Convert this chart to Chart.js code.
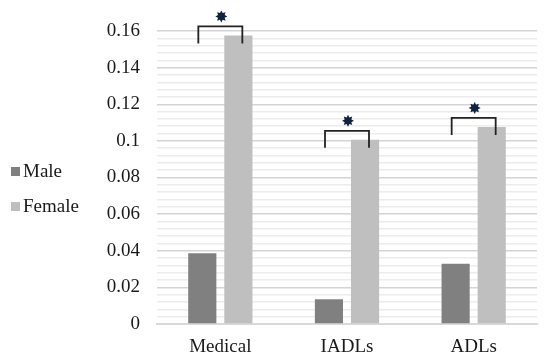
<!DOCTYPE html>
<html>
<head>
<meta charset="utf-8">
<script src="https://cdn.jsdelivr.net/npm/chart.js@4"></script>
<style>
  html, body { margin: 0; padding: 0; background: #fff; }
  #wrap { width: 550px; height: 364px; position: relative; }
</style>
</head>
<body>
<div id="wrap"><canvas id="c"></canvas></div>
<script>
const categories = ["Medical", "IADLs", "ADLs"];
const maleValues = [0.0387, 0.0135, 0.0329];
const femaleValues = [0.1576, 0.1006, 0.1076];
const seriesNames = ["Male", "Female"];
const significance = ["*", "*", "*"];
const yTickLabels = ["0", "0.02", "0.04", "0.06", "0.08", "0.1", "0.12", "0.14", "0.16"];

const FONT = "'Liberation Serif', 'Times New Roman', serif";
const TEXT = "#1a1a1a";

function starPath(ctx, cx, cy, rOut, rIn, n) {
  ctx.beginPath();
  for (let i = 0; i < n * 2; i++) {
    const r = i % 2 === 0 ? rOut : rIn;
    const a = -Math.PI / 2 + i * Math.PI / n;
    const x = cx + r * Math.cos(a), y = cy + r * Math.sin(a);
    if (i === 0) ctx.moveTo(x, y); else ctx.lineTo(x, y);
  }
  ctx.closePath();
}

const sigPlugin = {
  id: 'sig',
  afterDatasetsDraw(chart) {
    const ctx = chart.ctx;
    const xs = chart.scales.x, ys = chart.scales.y;
    ctx.save();
    significance.forEach((s, i) => {
      if (!s) return;
      const cx = xs.getPixelForValue(i);
      const topY = ys.getPixelForValue(femaleValues[i]) - 9;
      const left = cx - 22, right = cx + 22;
      ctx.strokeStyle = "#222";
      ctx.lineWidth = 1.8;
      ctx.beginPath();
      ctx.moveTo(left, topY + 17);
      ctx.lineTo(left, topY);
      ctx.lineTo(right, topY);
      ctx.lineTo(right, topY + 17);
      ctx.stroke();
      ctx.fillStyle = "#0f2340";
      starPath(ctx, cx + 1, topY - 10, 6, 3.6, 8);
      ctx.fill();
    });
    ctx.restore();
  }
};

// Side legend drawn from the chart's own datasets (Excel-style, tight box/text gap)
const sideLegend = {
  id: 'sideLegend',
  afterDraw(chart) {
    const ctx = chart.ctx;
    const area = chart.chartArea;
    const mid = (area.top + area.bottom) / 2;
    const rowGap = 35;
    const n = chart.data.datasets.length;
    const y0 = mid - 6 - 0 * rowGap;
    ctx.save();
    ctx.font = "19px " + FONT;
    ctx.textBaseline = 'middle';
    ctx.textAlign = 'left';
    chart.data.datasets.forEach((ds, i) => {
      const y = y0 + i * rowGap;
      ctx.fillStyle = ds.backgroundColor;
      ctx.fillRect(11, y - 4.5, 9, 9);
      ctx.fillStyle = TEXT;
      ctx.fillText(ds.label, 23, y + 1);
    });
    ctx.restore();
  }
};

new Chart(document.getElementById('c'), {
  type: 'bar',
  data: {
    labels: categories,
    datasets: [
      { label: seriesNames[0], data: maleValues, backgroundColor: "#808080",
        categoryPercentage: 0.57, barPercentage: 0.78 },
      { label: seriesNames[1], data: femaleValues, backgroundColor: "#bfbfbf",
        categoryPercentage: 0.57, barPercentage: 0.78 }
    ]
  },
  options: {
    responsive: true,
    maintainAspectRatio: false,
    animation: false,
    layout: { padding: { top: 31, right: 13, bottom: 0, left: 0 } },
    plugins: {
      legend: { display: false },
      tooltip: { enabled: false }
    },
    scales: {
      x: {
        grid: { display: false, drawTicks: false },
        border: { display: true, color: "#d9d9d9", width: 2 },
        ticks: { color: TEXT, font: { family: FONT, size: 19 }, padding: 12 },
        afterFit: (s) => { s.height = 40; }
      },
      y: {
        min: 0, max: 0.16,
        border: { display: false },
        grid: {
          drawTicks: false,
          lineWidth: 1.5,
          color: (c) => {
            const v = Math.round(c.tick.value * 1000);
            return v % 20 === 0 ? "#d4d4d4" : "#ececec";
          }
        },
        ticks: {
          stepSize: 0.004,
          autoSkip: false,
          padding: 17,
          color: TEXT,
          font: { family: FONT, size: 19 },
          callback: (v) => {
            const k = Math.round(v * 1000);
            if (k % 20 !== 0) return "";
            return yTickLabels[k / 20];
          }
        },
        afterFit: (s) => { s.width = 157; }
      }
    }
  },
  plugins: [sigPlugin, sideLegend]
});
</script>
</body>
</html>
